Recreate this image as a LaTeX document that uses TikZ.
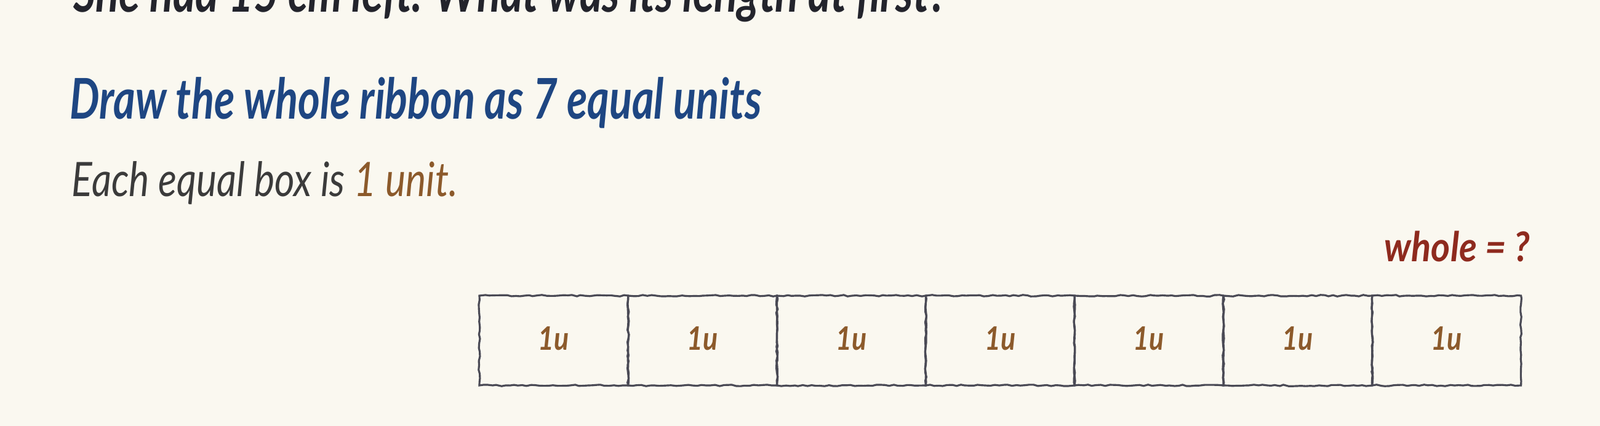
\documentclass[tikz,border=0pt]{standalone}
\usepackage{fontspec}
\setmainfont{Lato}
\newfontfamily\hand[FakeStretch=0.75]{Lato}
\newfontfamily\handtop[FakeStretch=0.77]{Lato}
\newfontfamily\handbody[FakeStretch=0.81]{Lato}
\newfontfamily\handwhole[FakeStretch=0.89]{Lato}
\newfontfamily\handunit[FakeStretch=0.85]{Lato}
\usetikzlibrary{positioning}
\usetikzlibrary{decorations.pathmorphing}

\definecolor{paper}{HTML}{FAF8F0}
\definecolor{ink}{HTML}{23242C}
\definecolor{headblue}{HTML}{1E4682}
\definecolor{bodygray}{HTML}{3B3B3B}
\definecolor{unitbrown}{HTML}{8C5A2B}
\definecolor{wholered}{HTML}{8E2A1E}
\definecolor{pencil}{HTML}{4A4A55}

\tikzset{
  unitbox/.style={draw=pencil, line width=0.9pt, rectangle, inner sep=0pt, outer sep=0pt,
    minimum width=2.418cm, minimum height=1.46cm,
    decorate, decoration={random steps, segment length=2pt, amplitude=0.35pt},
    text=unitbrown, font=\handunit\bfseries\itshape\fontsize{15}{18}\selectfont},
  textline/.style={inner sep=0pt, anchor=base west}
}
\newcommand{\unitlabel}{\raisebox{0.08cm}{1u}}

\begin{document}
\begin{tikzpicture}
\fill[paper] (0,0) rectangle (26,6.93);
\useasboundingbox (0,0) rectangle (26,6.93);
\clip (0,0) rectangle (26,6.93);
% question, cut off at the top
\node[textline, text=ink, font=\handtop\bfseries\itshape\fontsize{26}{30}\selectfont] (question) at (1.19,6.73) {She had 15 cm left. What was its length at first?};
\node[textline, text=headblue, font=\hand\bfseries\itshape\fontsize{26}{30}\selectfont] (heading) at (1.13,4.99) {Draw the whole ribbon as 7 equal units};
\node[textline, text=bodygray, font=\handbody\itshape\fontsize{22}{26}\selectfont] (note) at (1.16,3.73) {Each equal box is \textcolor{unitbrown}{1 unit.}};
\node[inner sep=0pt, anchor=base east, text=wholered, font=\handwhole\bfseries\itshape\fontsize{19}{22}\selectfont] (whole) at (24.87,2.67) {whole = ?};
% the ribbon
\begin{scope}[node distance=0mm]
\node[unitbox] (u1) at (8.999,1.39) {\unitlabel};
\node[unitbox, right=of u1] (u2) {\unitlabel};
\node[unitbox, right=of u2] (u3) {\unitlabel};
\node[unitbox, right=of u3] (u4) {\unitlabel};
\node[unitbox, right=of u4] (u5) {\unitlabel};
\node[unitbox, right=of u5] (u6) {\unitlabel};
\node[unitbox, right=of u6] (u7) {\unitlabel};
\end{scope}
\end{tikzpicture}
\end{document}
